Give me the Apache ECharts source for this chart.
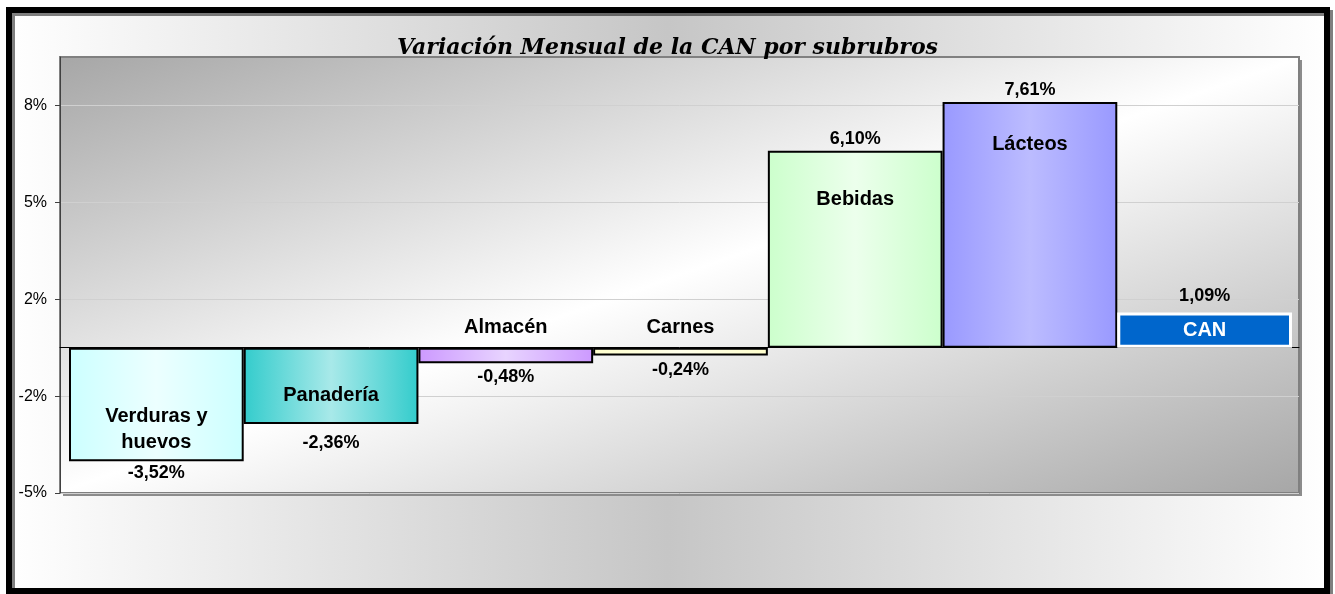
<!DOCTYPE html>
<html>
<head>
<meta charset="utf-8">
<script src="https://cdn.jsdelivr.net/npm/echarts@6/dist/echarts.min.js"></script>
<style>
  html, body { margin: 0; padding: 0; background: #fff; }
  #chart { width: 1335px; height: 594px; }
</style>
</head>
<body>
<div id="chart"></div>
<script>
// data
const categories = ['Verduras y\nhuevos', 'Panadería', 'Almacén', 'Carnes', 'Bebidas', 'Lácteos', 'CAN']
const variation = [-3.52, -2.36, -0.48, -0.24, 6.10, 7.61, 1.09]
const yTickValues = [-4.5, -1.5, 1.5, 4.5, 7.5]
const yTickLabels = ['-5%', '-2%', '2%', '5%', '8%']

// bar colours (edge colour, centre colour)
const BAR_COLORS = [
  ['#ccffff', '#ecffff'],
  ['#33cccc', '#a8e9e9'],
  ['#cc99ff', '#e8d4ff'],
  ['#ffffcc', '#ffffea'],
  ['#ccffcc', '#ecffec'],
  ['#9999ff', '#bcbcff'],
  ['#0066cc', '#0066cc'],
]

// label placement per bar (style only)
const NAME_POS = [
  { position: 'inside', offset: [0, 25] },
  { position: 'inside', offset: [0, 10] },
  { position: 'top', distance: 7 },
  { position: 'top', distance: 7 },
  { position: 'insideTop', distance: 36 },
  { position: 'insideTop', distance: 30 },
  { position: 'inside', offset: [0, 0], color: '#fff' },
]
const VALUE_DIST = [3, 10, 5, 6, 3, 3, 7]

const FONT = '"Liberation Sans", Arial, sans-serif'
const fmtPct = v => v.toFixed(2).replace('.', ',') + '%'

function hGrad(c1, c2) {
  return new echarts.graphic.LinearGradient(0, 0, 1, 0, [
    { offset: 0, color: c1 },
    { offset: 0.5, color: c2 },
    { offset: 1, color: c1 },
  ])
}

const chart = echarts.init(document.getElementById('chart'), null, { renderer: 'canvas' })

const Y_MIN = -4.5, Y_MAX = 9

chart.setOption({
  backgroundColor: '#fff',
  animation: false,
  title: {
    text: 'Variación Mensual de la CAN por subrubros',
    left: 'center',
    top: 32,
    textStyle: {
      fontFamily: '"DejaVu Serif", serif',
      fontStyle: 'italic',
      fontWeight: 'bold',
      fontSize: 22,
      color: '#000',
    },
  },
  graphic: [
    {
      type: 'rect',
      z: -10,
      shape: { x: 9, y: 10, width: 1318, height: 581 },
      style: {
        fill: new echarts.graphic.LinearGradient(0, 0, 1, 0, [
          { offset: 0, color: '#ffffff' },
          { offset: 0.5, color: '#c6c6c6' },
          { offset: 1, color: '#ffffff' },
        ]),
        stroke: '#000',
        lineWidth: 6,
        shadowColor: 'rgba(0,0,0,0.5)',
        shadowOffsetX: 3,
        shadowOffsetY: 3,
      },
    },
    // plot-area drop shadow
    {
      type: 'rect',
      z: -5,
      shape: { x: 63, y: 60, width: 1239, height: 436 },
      style: { fill: '#8c8c8c' },
    },
  ],
  grid: [
    {
      left: 60, top: 57, width: 1239, height: 436,
      show: true,
      // dark top-left and bottom-right corners, white along the other diagonal
      backgroundColor: new echarts.graphic.LinearGradient(0.39, -0.39, 0.61, 1.39, [
        { offset: 0, color: '#a6a6a6' },
        { offset: 0.5, color: '#ffffff' },
        { offset: 1, color: '#a6a6a6' },
      ]),
      borderColor: '#808080',
      borderWidth: 2,
    },
    { left: 69, top: 57, width: 1223, height: 436 },
  ],
  xAxis: [
    {
      gridIndex: 0, type: 'category', data: categories,
      axisLine: { show: true, onZero: true, lineStyle: { color: '#000', width: 1 } },
      axisTick: { show: false },
      axisLabel: { show: false },
    },
    {
      gridIndex: 1, type: 'category', data: categories,
      axisLine: { show: false }, axisTick: { show: false }, axisLabel: { show: false },
    },
  ],
  yAxis: [
    {
      gridIndex: 0, type: 'value', min: Y_MIN, max: Y_MAX, interval: 3,
      axisLine: { show: true, lineStyle: { color: '#404040', width: 1 } },
      axisTick: { show: true, length: 5, lineStyle: { color: '#404040' }, customValues: yTickValues },
      axisLabel: {
        customValues: yTickValues,
        formatter: v => yTickLabels[yTickValues.indexOf(v)] || '',
        color: '#000', fontFamily: FONT, fontSize: 16, margin: 13,
      },
      splitLine: { show: true, lineStyle: { color: '#d0d0d0', width: 1 } },
    },
    {
      gridIndex: 1, type: 'value', min: Y_MIN, max: Y_MAX, show: false,
      splitLine: { show: false },
    },
  ],
  series: [
    {
      name: 'Variación',
      type: 'bar',
      xAxisIndex: 1, yAxisIndex: 1,
      barCategoryGap: '0%',
      data: variation.map((v, i) => ({
        value: v,
        itemStyle: {
          color: hGrad(BAR_COLORS[i][0], BAR_COLORS[i][1]),
          borderColor: i === 6 ? '#fff' : '#000',
          borderWidth: i === 6 ? 3 : 2,
        },
        label: {
          show: true,
          position: v < 0 ? 'bottom' : 'top',
          distance: VALUE_DIST[i],
        },
      })),
      label: {
        formatter: p => fmtPct(p.value),
        fontFamily: FONT, fontWeight: 'bold', fontSize: 18, color: '#000',
      },
    },
    {
      name: 'Nombres',
      type: 'bar',
      xAxisIndex: 1, yAxisIndex: 1,
      barCategoryGap: '0%',
      barGap: '-100%',
      silent: true,
      z: 5,
      data: variation.map((v, i) => ({
        value: v,
        label: Object.assign({ show: true }, NAME_POS[i]),
      })),
      itemStyle: { color: 'transparent', borderWidth: 0 },
      label: {
        formatter: p => categories[p.dataIndex],
        fontFamily: FONT, fontWeight: 'bold', fontSize: 20, color: '#000',
        lineHeight: 26,
      },
    },
  ],
})
</script>
</body>
</html>
